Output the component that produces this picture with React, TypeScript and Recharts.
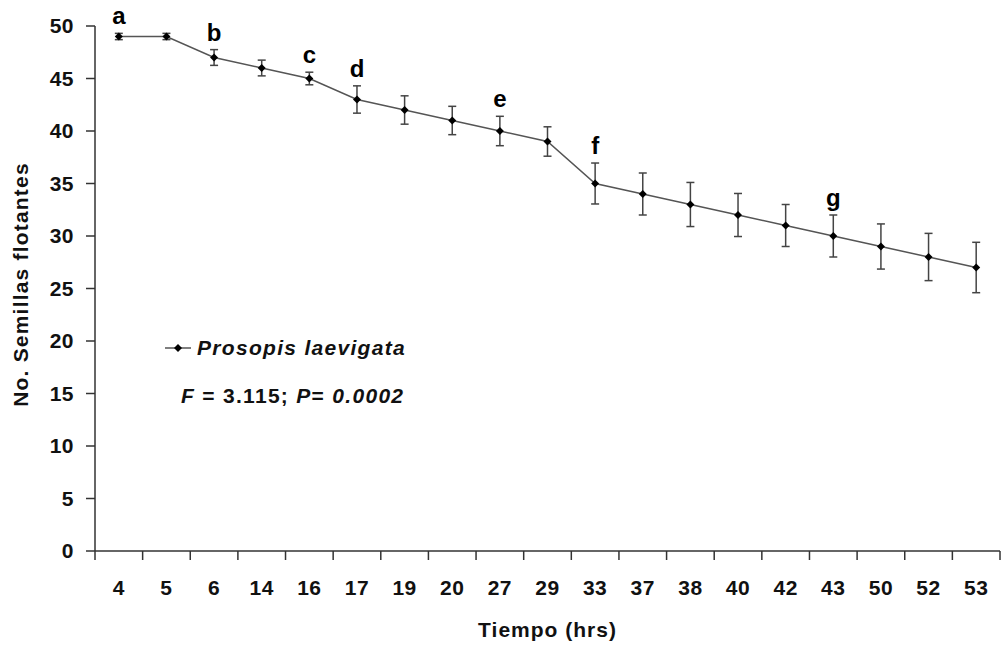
import React from "react";
import { ErrorBar, LabelList, Legend, Line, LineChart, XAxis, YAxis } from "recharts";

const hours = ["4", "5", "6", "14", "16", "17", "19", "20", "27", "29", "33", "37", "38", "40", "42", "43", "50", "52", "53"];
const floating = [49, 49, 47, 46, 45, 43, 42, 41, 40, 39, 35, 34, 33, 32, 31, 30, 29, 28, 27];
const floatingErr = [0.3, 0.3, 0.75, 0.75, 0.6, 1.3, 1.35, 1.35, 1.4, 1.4, 1.95, 2.0, 2.1, 2.05, 2.0, 2.0, 2.15, 2.25, 2.4];
const groups = ["a", "", "b", "", "c", "d", "", "", "e", "", "f", "", "", "", "", "g", "", "", ""];
const yTicks = [0, 5, 10, 15, 20, 25, 30, 35, 40, 45, 50];

const data = hours.map((h, i) => ({
  hour: h,
  seeds: floating[i],
  err: floatingErr[i],
  // top of the error bar, used only to hang the group letters
  upper: floating[i] + floatingErr[i],
  group: groups[i],
}));

const FONT = "'Liberation Sans', Arial, sans-serif";
const AXIS = "#333";
const TEXT = "#111";
const PLOT_W = 1006 - 95 - 6;
const HALF_BAND = PLOT_W / hours.length / 2;

function Diamond(props: any) {
  const { cx, cy } = props;
  if (cx == null || cy == null) return null;
  return <path d={`M${cx} ${cy - 4}L${cx + 4} ${cy}L${cx} ${cy + 4}L${cx - 4} ${cy}Z`} fill="#000" />;
}

// category labels centred, tick marks on the band edges
function HourTick(props: any) {
  const { x, y, payload, index, visibleTicksCount } = props;
  const half = HALF_BAND;
  const axisY = y - 9;
  const last = index === visibleTicksCount - 1;
  return (
    <g>
      <line x1={x - half} y1={axisY} x2={x - half} y2={axisY + 9} stroke={AXIS} strokeWidth={1.5} />
      {last && <line x1={x + half} y1={axisY} x2={x + half} y2={axisY + 9} stroke={AXIS} strokeWidth={1.5} />}
      <text x={x} y={axisY + 44} textAnchor="middle" fill={TEXT} fontFamily={FONT} fontSize={21} fontWeight="bold" letterSpacing={0.5}>
        {payload.value}
      </text>
    </g>
  );
}

function LegendBox() {
  return (
    <div style={{ fontFamily: FONT, fontWeight: "bold", color: TEXT, fontSize: 21, letterSpacing: 1.3, lineHeight: "24px" }}>
      <div style={{ display: "flex", alignItems: "center" }}>
        <svg width={34} height={12}>
          <line x1={2} y1={6} x2={28} y2={6} stroke="#555" strokeWidth={1.5} />
          <path d="M15 2L19 6L15 10L11 6Z" fill="#000" />
        </svg>
        <span style={{ fontStyle: "italic" }}>Prosopis laevigata</span>
      </div>
      <div style={{ marginTop: 24, marginLeft: 18 }}>
        <i>F</i> = 3.115; <i>P</i>= <i>0.0002</i>
      </div>
    </div>
  );
}

export default function App() {
  return (
    <div style={{ position: "absolute", left: 0, top: 0, background: "#fff" }}>
      <LineChart width={1006} height={649} data={data} margin={{ top: 26, right: 6, bottom: 0, left: 0 }}>
        <XAxis
          dataKey="hour"
          height={98}
          padding={{ left: HALF_BAND, right: HALF_BAND }}
          axisLine={{ stroke: AXIS, strokeWidth: 1.5 }}
          tickLine={false}
          tickSize={9}
          tickMargin={0}
          interval={0}
          tick={<HourTick />}
          label={{
            content: (p: any) => {
              const vb = p.viewBox;
              return (
                <text x={vb.x + vb.width / 2} y={vb.y + 86} textAnchor="middle" fill={TEXT} fontFamily={FONT} fontSize={21} fontWeight="bold" letterSpacing={1}>
                  Tiempo (hrs)
                </text>
              );
            },
          }}
        />
        <YAxis
          width={95}
          domain={[0, 50]}
          ticks={yTicks}
          interval={0}
          allowDataOverflow
          axisLine={{ stroke: AXIS, strokeWidth: 1.5 }}
          tickLine={{ stroke: AXIS, strokeWidth: 1.5 }}
          tickSize={9}
          tickMargin={12}
          tick={{ fill: TEXT, fontFamily: FONT, fontSize: 21, fontWeight: "bold", letterSpacing: 0.5 }}
          label={{
            content: (p: any) => {
              const vb = p.viewBox;
              const cy = vb.y + vb.height / 2 - 4;
              return (
                <text x={28} y={cy} transform={`rotate(-90, 28, ${cy})`} textAnchor="middle" fill={TEXT} fontFamily={FONT} fontSize={21} fontWeight="bold" letterSpacing={1.2}>
                  No. Semillas flotantes
                </text>
              );
            },
          }}
        />
        <Legend
          layout="vertical"
          align="center"
          verticalAlign="middle"
          wrapperStyle={{ left: 163, top: 336, width: 320 }}
          content={() => <LegendBox />}
        />
        <Line
          dataKey="seeds"
          stroke="#555"
          strokeWidth={1.5}
          dot={<Diamond />}
          activeDot={false}
          isAnimationActive={false}
        >
          <ErrorBar dataKey="err" direction="y" width={4} stroke="#444" strokeWidth={1.5} />
        </Line>
        <Line
          dataKey="upper"
          stroke="none"
          dot={false}
          activeDot={false}
          legendType="none"
          isAnimationActive={false}
        >
          <LabelList dataKey="group" position="top" offset={9} fill="#000" fontFamily={FONT} fontSize={24} fontWeight="bold" />
        </Line>
      </LineChart>
    </div>
  );
}
